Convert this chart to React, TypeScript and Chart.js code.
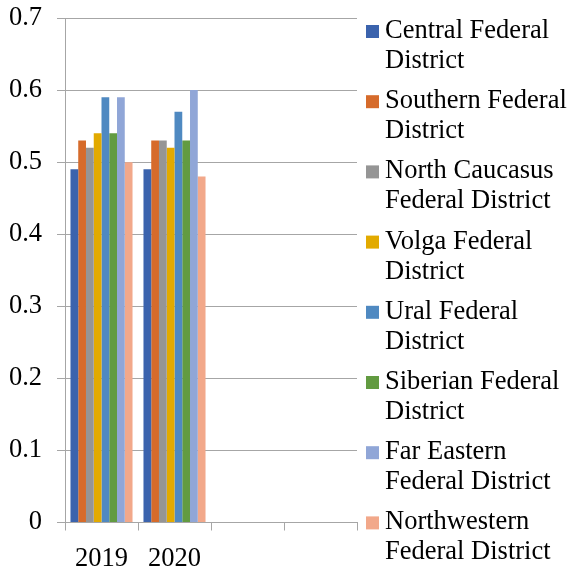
import React, { useEffect, useRef } from "react";
import { Chart, registerables } from "chart.js";

Chart.register(...registerables);

// Categories along the x axis (two trailing empty slots)
const years = ["2019", "2020", "", ""];

// Federal districts (legend text split over two lines)
const districtNames = [
  "Central Federal District",
  "Southern Federal District",
  "North Caucasus Federal District",
  "Volga Federal District",
  "Ural Federal District",
  "Siberian Federal District",
  "Far Eastern Federal District",
  "Northwestern Federal District",
];
const legendLines = [
  ["Central Federal", "District"],
  ["Southern Federal", "District"],
  ["North Caucasus", "Federal District"],
  ["Volga Federal", "District"],
  ["Ural Federal", "District"],
  ["Siberian Federal", "District"],
  ["Far Eastern", "Federal District"],
  ["Northwestern", "Federal District"],
];

// Values per district: [2019, 2020]
const central = [0.49, 0.49];
const southern = [0.53, 0.53];
const northCaucasus = [0.52, 0.53];
const volga = [0.54, 0.52];
const ural = [0.59, 0.57];
const siberian = [0.54, 0.53];
const farEastern = [0.59, 0.6];
const northwestern = [0.5, 0.48];

const seriesValues = [central, southern, northCaucasus, volga, ural, siberian, farEastern, northwestern];

const colors = ["#3b63ad", "#d66b2b", "#959595", "#e2aa00", "#4f89c1", "#629b41", "#90a6d7", "#f2a88a"];

const yTicks = [0, 0.1, 0.2, 0.3, 0.4, 0.5, 0.6, 0.7];

const FONT_FAMILY = '"Liberation Serif", "Times New Roman", serif';
const FONT_SIZE = 26.5;
const GRID = "#a6a6a6";

// Two-line legend drawn at the right of the plot
const sideLegend = {
  id: "sideLegend",
  afterDraw(chart: any) {
    const ctx = chart.ctx as CanvasRenderingContext2D;
    ctx.save();
    ctx.font = `${FONT_SIZE}px ${FONT_FAMILY}`;
    ctx.textBaseline = "alphabetic";
    ctx.textAlign = "left";
    chart.data.datasets.forEach((ds: any, i: number) => {
      const base = 38 + 70.2 * i;
      ctx.fillStyle = ds.backgroundColor;
      ctx.fillRect(366, base - 13, 13, 13);
      ctx.fillStyle = "#000";
      const lines: string[] = legendLines[i];
      lines.forEach((ln, k) => ctx.fillText(ln, 385, base + k * 30));
    });
    ctx.restore();
  },
};

export default function App() {
  const ref = useRef<HTMLCanvasElement | null>(null);

  useEffect(() => {
    if (!ref.current) return;
    const chart = new Chart(ref.current, {
      type: "bar",
      data: {
        labels: years,
        datasets: districtNames.map((name, i) => ({
          label: name,
          data: seriesValues[i],
          backgroundColor: colors[i],
          borderWidth: 0,
          categoryPercentage: 0.85,
          barPercentage: 1,
        })),
      },
      options: {
        responsive: false,
        animation: false,
        layout: { padding: { top: 18, right: 214, left: 0, bottom: 0 } },
        plugins: {
          legend: { display: false },
          tooltip: { enabled: false },
        },
        scales: {
          x: {
            type: "category",
            offset: true,
            grid: {
              offset: true,
              drawOnChartArea: false,
              drawTicks: true,
              tickLength: 8,
              color: GRID,
            },
            border: { display: true, color: GRID },
            ticks: {
              color: "#000",
              font: { family: FONT_FAMILY, size: FONT_SIZE },
              padding: 13,
              maxRotation: 0,
              autoSkip: false,
            },
            afterFit: (scale: any) => {
              scale.height = 47.5;
              scale.paddingLeft = 0;
              scale.paddingRight = 0;
            },
          },
          y: {
            min: 0,
            max: 0.7,
            afterBuildTicks: (scale: any) => {
              scale.ticks = yTicks.map((v) => ({ value: v }));
            },
            grid: { color: GRID, tickLength: 8, drawTicks: true },
            border: { display: true, color: GRID },
            ticks: {
              color: "#000",
              font: { family: FONT_FAMILY, size: FONT_SIZE },
              padding: 15,
              callback: (v: any) => (Number(v) === 0 ? "0" : Number(v).toFixed(1)),
            },
            afterFit: (scale: any) => {
              scale.width = 65;
              scale.paddingTop = 0;
              scale.paddingBottom = 0;
            },
          },
        },
      },
      plugins: [sideLegend],
    });
    return () => chart.destroy();
  }, []);

  return (
    <div style={{ position: "fixed", left: 0, top: 0, width: 571, height: 570, background: "#fff" }}>
      <canvas ref={ref} width={571} height={570} />
    </div>
  );
}
